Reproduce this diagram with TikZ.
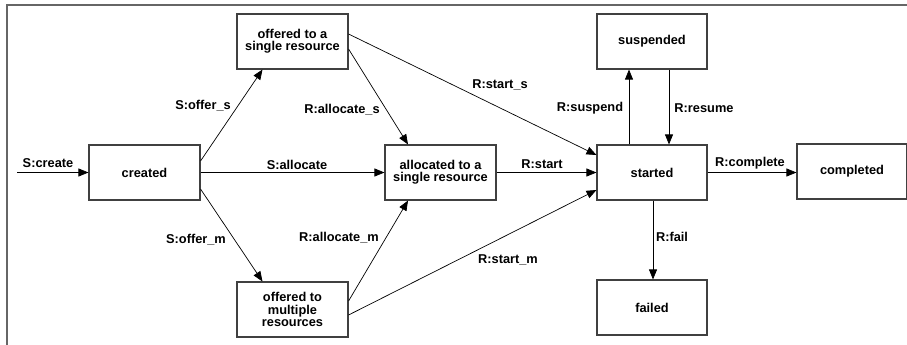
\documentclass[tikz,border=0pt]{standalone}
\usepackage{fontspec}
\setmainfont{Liberation Sans}
\usetikzlibrary{arrows.meta}
\begin{document}
\begin{tikzpicture}[x=1pt,y=-1pt,
  state/.style={draw=black!75,line width=1.1pt,fill=white,minimum width=111pt,minimum height=55pt,inner sep=1pt,align=center,font=\bfseries\fontsize{12.8}{12.2}\selectfont},
  lbl/.style={inner sep=0pt,font=\bfseries\fontsize{12.8}{13}\selectfont},
  tr/.style={draw=black,line width=0.7pt,-{Triangle[length=10pt,width=8pt]}},
  frame/.style={draw=black!60,line width=1.4pt}]
\useasboundingbox (0,0) rectangle (907,345);
\coordinate (ftop) at (907,5);
\coordinate (fcorner) at (7,5);
\coordinate (fbot) at (7,345);
\draw[frame] (ftop) -- (fcorner) -- (fbot);

\node[state] (created) at (144.5,172.5) {created};
\node[state] (offs) at (292.5,41.5) {offered to a\\single resource};
\node[state] (alloc) at (440.5,172.5) {allocated to a\\single resource};
\node[state] (offm) at (292.5,309.5) {offered to\\multiple\\resources};
\node[state,minimum width=110pt] (started) at (652,172.5) {started};
\node[state,minimum width=110pt] (susp) at (652,41.5) {suspended};
\node[state,minimum width=110pt] (compl) at (852,171.5) {completed};
\node[state,minimum width=110pt] (failed) at (652,307.5) {failed};

\coordinate (init) at (17,172.5);
\draw[tr] (init) -- (created.west);
\draw[tr] ([yshift=11.5pt]created.east) -- ([xshift=-30pt]offs.south);
\draw[tr] (created.east) -- (alloc.west);
\draw[tr] ([yshift=-16.5pt]created.east) -- ([xshift=-30pt]offm.north);
\draw[tr] ([yshift=-7.5pt]offs.east) -- ([xshift=-32.5pt]alloc.north);
\draw[tr] ([yshift=8.5pt]offm.east) -- ([xshift=-32.5pt]alloc.south);
\draw[tr] ([yshift=7.5pt]offs.east) -- ([yshift=17.5pt]started.west);
\draw[tr] ([yshift=-5.5pt]offm.east) -- ([yshift=-17.5pt]started.west);
\draw[tr] (alloc.east) -- (started.west);
\draw[tr] ([xshift=-23pt]started.north) -- ([xshift=-23pt]susp.south);
\draw[tr] ([xshift=17pt]susp.south) -- ([xshift=17pt]started.north);
\draw[tr] (started.east) -- (compl.west |- started.east);
\draw[tr] ([xshift=1pt]started.south) -- ([xshift=1pt]failed.north);

\node[lbl] (l1) at (48,163) {S:create};
\node[lbl] (l2) at (203,106) {S:offer\_s};
\node[lbl] (l3) at (297,165) {S:allocate};
\node[lbl] (l4) at (196,240) {S:offer\_m};
\node[lbl] (l5) at (342,110) {R:allocate\_s};
\node[lbl] (l6) at (339,238) {R:allocate\_m};
\node[lbl] (l7) at (500,85) {R:start\_s};
\node[lbl] (l8) at (508,260) {R:start\_m};
\node[lbl] (l9) at (542,164) {R:start};
\node[lbl] (l10) at (590,108) {R:suspend};
\node[lbl] (l11) at (704,108) {R:resume};
\node[lbl] (l12) at (750,163) {R:complete};
\node[lbl] (l13) at (672,237) {R:fail};
\end{tikzpicture}
\end{document}
